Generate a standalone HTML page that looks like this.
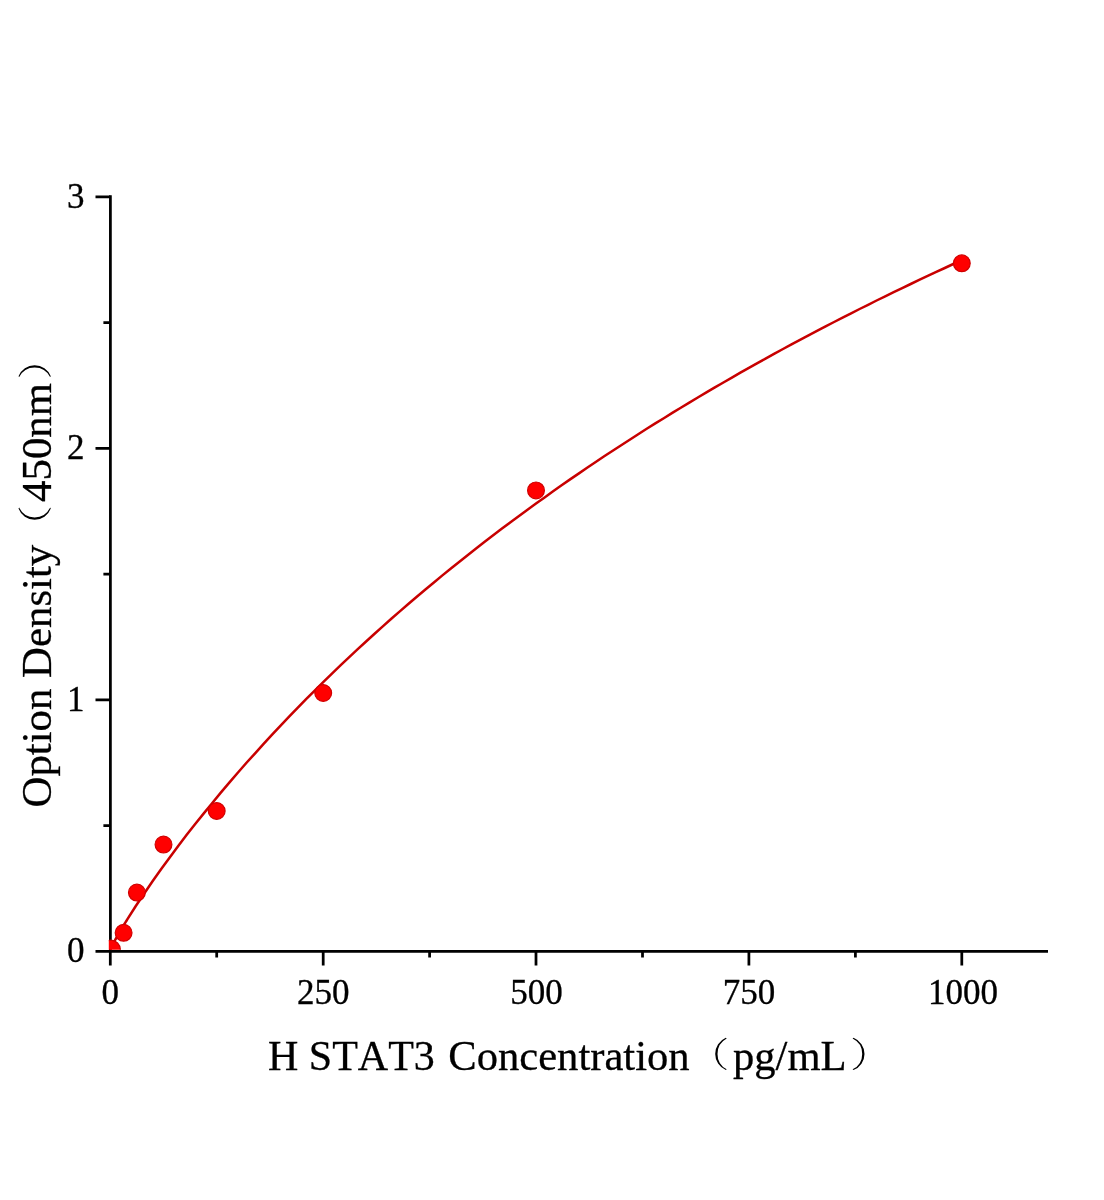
<!DOCTYPE html>
<html><head><meta charset="utf-8"><style>
html,body{margin:0;padding:0;background:#fff;}
svg{display:block;will-change:transform;}
text{font-family:"Liberation Serif",serif;font-kerning:none;stroke:#000;stroke-width:0.3px;}
</style></head><body>
<svg width="1104" height="1200" viewBox="0 0 1104 1200">
<rect width="1104" height="1200" fill="#fff"/>
<g fill="none" stroke="#000" stroke-width="2.75">
<path d="M110.4,195.3V951.3H1048"/>
<path d="M95.5,951.3H110.4 M95.5,699.8H110.4 M95.5,448.3H110.4 M95.5,196.8H110.4 M103.4,825.5H110.4 M103.4,574.0H110.4 M103.4,322.5H110.4 M110.3,951.3V965.5 M323.2,951.3V965.5 M536.0,951.3V965.5 M748.9,951.3V965.5 M961.8,951.3V965.5 M216.7,951.3V957.5 M429.6,951.3V957.5 M642.5,951.3V957.5 M855.4,951.3V957.5"/>
</g>
<g font-size="35" fill="#000">
<text x="84.5" y="962.1" text-anchor="end">0</text>
<text x="84.5" y="710.6" text-anchor="end">1</text>
<text x="84.5" y="459.1" text-anchor="end">2</text>
<text x="84.5" y="207.6" text-anchor="end">3</text>
<text x="110.3" y="1003.5" text-anchor="middle">0</text>
<text x="323.2" y="1003.5" text-anchor="middle">250</text>
<text x="536.4" y="1003.5" text-anchor="middle">500</text>
<text x="748.9" y="1003.5" text-anchor="middle">750</text>
<text x="963.1" y="1003.5" text-anchor="middle">1000</text>
</g>
<clipPath id="pc"><rect x="108.8" y="0" width="1000" height="949.8"/></clipPath>
<path d="M110.3,949.6 L111.2,947.7 L112.0,945.9 L112.9,944.3 L113.7,942.6 L114.6,941.1 L115.4,939.5 L116.3,938.0 L117.1,936.5 L118.0,935.0 L118.8,933.5 L119.7,932.0 L120.5,930.6 L121.4,929.2 L122.2,927.7 L123.1,926.3 L123.9,924.9 L124.8,923.5 L125.6,922.1 L126.5,920.7 L127.3,919.4 L135.8,906.0 L144.4,893.2 L152.9,880.8 L161.4,868.8 L169.9,857.2 L178.4,845.8 L186.9,834.6 L195.4,823.8 L204.0,813.1 L212.5,802.7 L221.0,792.4 L229.5,782.4 L238.0,772.5 L246.5,762.8 L255.1,753.3 L263.6,743.9 L272.1,734.6 L280.6,725.6 L289.1,716.6 L297.6,707.8 L306.1,699.1 L314.7,690.6 L323.2,682.2 L331.7,673.9 L340.2,665.7 L348.7,657.6 L357.2,649.6 L365.8,641.8 L374.3,634.0 L382.8,626.4 L391.3,618.8 L399.8,611.4 L408.3,604.0 L416.8,596.7 L425.4,589.5 L433.9,582.5 L442.4,575.4 L450.9,568.5 L459.4,561.7 L467.9,554.9 L476.4,548.2 L485.0,541.6 L493.5,535.1 L502.0,528.6 L510.5,522.2 L519.0,515.9 L527.5,509.7 L536.0,503.5 L544.6,497.4 L553.1,491.3 L561.6,485.3 L570.1,479.4 L578.6,473.6 L587.1,467.8 L595.7,462.0 L604.2,456.3 L612.7,450.7 L621.2,445.2 L629.7,439.7 L638.2,434.2 L646.7,428.8 L655.3,423.4 L663.8,418.2 L672.3,412.9 L680.8,407.7 L689.3,402.6 L697.8,397.5 L706.4,392.4 L714.9,387.4 L723.4,382.5 L731.9,377.6 L740.4,372.7 L748.9,367.9 L757.4,363.1 L766.0,358.4 L774.5,353.7 L783.0,349.0 L791.5,344.4 L800.0,339.9 L808.5,335.4 L817.0,330.9 L825.6,326.4 L834.1,322.0 L842.6,317.6 L851.1,313.3 L859.6,309.0 L868.1,304.8 L876.6,300.5 L885.2,296.3 L893.7,292.2 L902.2,288.1 L910.7,284.0 L919.2,279.9 L927.7,275.9 L936.3,271.9 L944.8,268.0 L953.3,264.0 L961.8,260.1" fill="none" stroke="#c80000" stroke-width="2.5" stroke-linejoin="round"/>
<g fill="#ff0000" stroke="#d00000" stroke-width="1.2">
<g clip-path="url(#pc)"><circle cx="110.8" cy="949.8" r="9.6"/></g>
<circle cx="123.6" cy="932.8" r="8.4"/>
<circle cx="136.9" cy="892.6" r="8.4"/>
<circle cx="163.5" cy="844.6" r="8.4"/>
<circle cx="216.7" cy="811.0" r="8.4"/>
<circle cx="323.2" cy="693.0" r="8.4"/>
<circle cx="536.0" cy="490.4" r="8.4"/>
<circle cx="961.8" cy="263.3" r="8.4"/>
</g>
<g fill="#000">
<text x="268" y="1070" font-size="42">H STAT3</text>
<text x="448.3" y="1070" font-size="42.6">Concentration</text>
<text x="733" y="1070" font-size="42.6">pg/mL</text>
<path d="M725.80,1037.80 A17.53,17.53 0 0 0 725.80,1070.00 L726.70,1069.30 A17.49,17.49 0 0 1 726.70,1038.50Z"/>
<path d="M853.50,1037.80 A17.28,17.28 0 0 1 853.50,1070.00 L852.60,1069.30 A17.15,17.15 0 0 0 852.60,1038.50Z"/>
<g transform="translate(50.5,807.5) rotate(-90)">
<text x="0" y="0" font-size="42.8">Option Density</text>
<text x="305.6" y="0" font-size="42.8">450nm</text>
<path d="M299.00,-32.00 A17.24,17.24 0 0 0 299.00,0.30 L299.90,-0.40 A17.08,17.08 0 0 1 299.90,-31.30Z"/>
<path d="M431.30,-32.00 A17.36,17.36 0 0 1 431.30,0.30 L430.40,-0.40 A17.23,17.23 0 0 0 430.40,-31.30Z"/>
</g>
</g>
</svg>
</body></html>
